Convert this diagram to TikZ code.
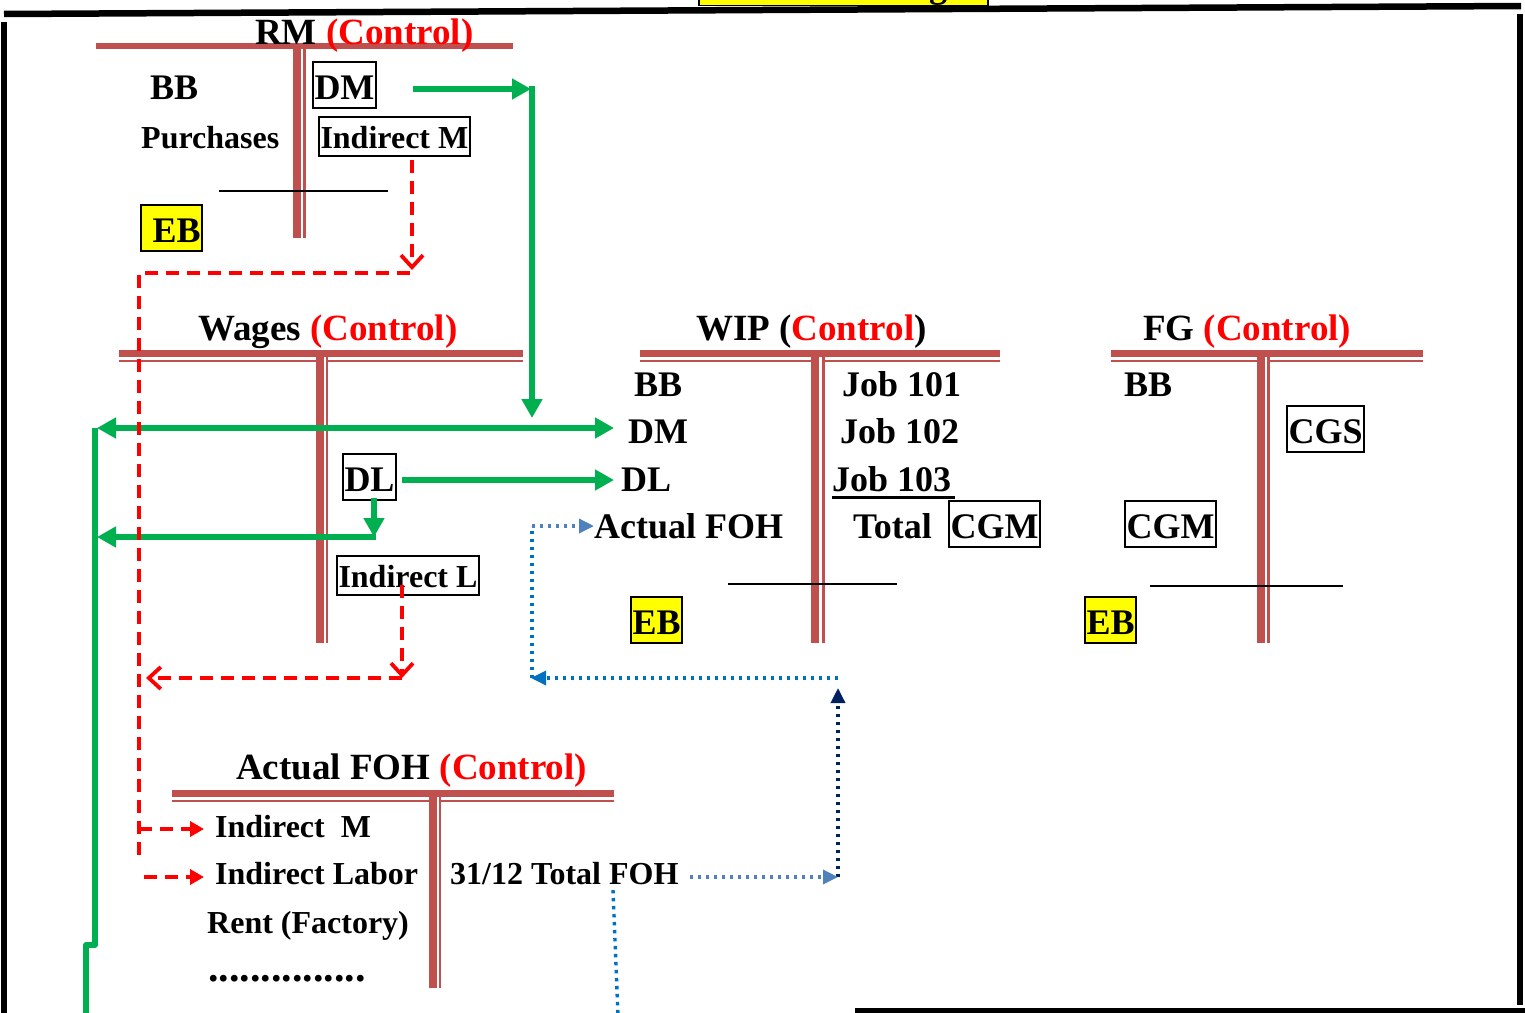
\documentclass[tikz,border=0pt]{standalone}
\usepackage{fontspec}
\setmainfont{Liberation Serif}
\usetikzlibrary{arrows.meta}
\definecolor{tred}{HTML}{C0504D}
\definecolor{gline}{HTML}{00B050}
\definecolor{rline}{HTML}{FF0000}
\definecolor{bline}{HTML}{0070C0}
\definecolor{lbline}{HTML}{4F81BD}
\definecolor{nline}{HTML}{002060}
\definecolor{ybox}{HTML}{FFFF00}
\begin{document}
\begin{tikzpicture}[x=1pt,y=-1pt,
  big/.style={font=\fontsize{36}{40}\selectfont\bfseries, inner sep=0pt, anchor=base west},
  small/.style={font=\fontsize{32}{36}\selectfont\bfseries, inner sep=0pt, anchor=base west},
  ttl/.style={font=\fontsize{37}{42}\selectfont\bfseries, inner sep=0pt, anchor=base west},
  boxed/.style={draw=black, line width=2pt, inner xsep=1.5pt, inner ysep=0pt, text height=37pt, text depth=9pt},
  sboxed/.style={draw=black, line width=2pt, inner xsep=1.5pt, inner ysep=0pt, text height=31pt, text depth=8pt},
  thickT/.style={draw=tred, line width=7pt},
  thinT/.style={draw=tred, line width=2.5pt},
  sepline/.style={draw=black, line width=1.5pt},
  frameline/.style={draw=black, line width=6.5pt},
  gconn/.style={draw=gline, line width=5.5pt},
  gtip/.style={-{Triangle[length=19pt,width=20pt]}},
  rdash/.style={draw=rline, line width=3.8pt, dash pattern=on 13pt off 8pt},
  rbarb/.style={-{Straight Barb[length=12pt,width=22pt]}},
  rtip/.style={-{Triangle[length=14pt,width=15pt]}},
  bdot/.style={draw=bline, line width=3.4pt, dash pattern=on 3.4pt off 4.6pt},
  lbdot/.style={draw=lbline, line width=3.4pt, dash pattern=on 3.4pt off 4.6pt},
  ndot/.style={draw=nline, line width=3.4pt, dash pattern=on 3.4pt off 4.6pt},
  btip/.style={-{Triangle[length=15pt,width=14pt]}}
]
\useasboundingbox (0,0) rectangle (1525,1012);

% frame
\draw[frameline] (4,14) -- (1521,6);
\draw[frameline] (4,22) -- (4,1016);
\draw[frameline] (1520,14) -- (1520,1005);
\draw[draw=black, line width=5pt] (855,1010) -- (1530,1010);
\node[draw=black, line width=1.5pt, fill=ybox, minimum width=289pt, minimum height=20pt, anchor=south west, inner sep=0pt] (tbox) at (698,6) {};
\node[font=\fontsize{36}{40}\selectfont\bfseries, anchor=base, inner sep=0pt] (tg) at (938,-3) {g};

% ---------- RM T-account
\draw[thickT, line width=6pt] (96,46) -- (513,46);
\draw[thickT, line width=8pt] (297,49) -- (297,238);
\draw[thinT] (304.5,49) -- (304.5,238);
\draw[sepline] (219,191) -- (388,191);
\node[ttl] (rmT) at (255,44) {RM \textcolor{rline}{(Control)}};
\node[big] (rmBB) at (150,99) {BB};
\node[small] (rmPur) at (141,148) {Purchases};
\node[big,boxed] (rmDM) at (312,99) {DM};
\node[small,sboxed] (rmIM) at (318,148) {Indirect M};
\node[big,boxed,fill=ybox] (rmEB) at (140,242) {\hspace{10pt}EB};

% ---------- Wages T-account
\draw[thickT] (119,353.5) -- (523,353.5);
\draw[thinT] (119,361) -- (320,361);
\draw[thinT] (327,361) -- (523,361);
\draw[thickT, line width=8pt] (320,357) -- (320,643);
\draw[thinT] (327,357) -- (327,643);
\node[ttl] (wT) at (198,340) {Wages \textcolor{rline}{(Control)}};
\node[big,boxed] (wDL) at (342,491) {DL};
\node[small,sboxed] (wIL) at (336,587) {Indirect L};

% ---------- WIP T-account
\draw[thickT] (640,353.5) -- (1000,353.5);
\draw[thinT] (640,361) -- (815,361);
\draw[thinT] (823.5,361) -- (1000,361);
\draw[thickT, line width=8pt] (815,357) -- (815,643);
\draw[thinT] (823.5,357) -- (823.5,643);
\draw[sepline] (728,584) -- (897,584);
\node[ttl] (wipT) at (696,340) {WIP (\textcolor{rline}{Control})};
\node[big] (wipBB) at (634,396) {BB};
\node[big] (wipDM) at (628,443) {DM};
\node[big] (wipDL) at (621,491) {DL};
\node[big] (wipFOH) at (594,538) {Actual FOH};
\node[big] (j1) at (842,396) {Job 101};
\node[big] (j2) at (840,443) {Job 102};
\node[big] (j3) at (832,491) {Job 103};
\draw[line width=3pt] ([yshift=-6pt]j3.base west) -- ([yshift=-6pt,xshift=4pt]j3.base east);
\node[big] (tot) at (853,538) {Total};
\node[big,boxed] (wipCGM) at (948,538) {CGM};
\node[big,boxed,fill=ybox] (wipEB) at (630,634) {EB};

% ---------- FG T-account
\draw[thickT] (1111,353.5) -- (1423,353.5);
\draw[thinT] (1111,361) -- (1261,361);
\draw[thinT] (1268.5,361) -- (1423,361);
\draw[thickT, line width=8pt] (1261,357) -- (1261,643);
\draw[thinT] (1268.5,357) -- (1268.5,643);
\draw[sepline] (1150,586) -- (1343,586);
\node[ttl] (fgT) at (1143,340) {FG \textcolor{rline}{(Control)}};
\node[big] (fgBB) at (1124,396) {BB};
\node[big,boxed] (fgCGS) at (1286,443) {CGS};
\node[big,boxed] (fgCGM) at (1124,538) {CGM};
\node[big,boxed,fill=ybox] (fgEB) at (1084,634) {EB};

% ---------- Actual FOH T-account
\draw[thickT] (172,793.5) -- (614,793.5);
\draw[thinT] (172,801) -- (433,801);
\draw[thinT] (440,801) -- (614,801);
\draw[thickT, line width=8pt] (433,797) -- (433,988);
\draw[thinT] (440,797) -- (440,988);
\node[ttl] (fohT) at (236,779) {Actual FOH \textcolor{rline}{(Control)}};
\node[small] (fIM) at (215,837) {Indirect\ \ M};
\node[small] (fIL) at (215,884) {Indirect Labor};
\node[small] (fRent) at (207,933) {Rent (Factory)};
\node[font=\fontsize{42}{46}\selectfont\bfseries, inner sep=0pt, anchor=base west] (fDots) at (208,981) {...............};
\node[small] (fTot) at (450,884) {31/12 Total FOH};

% ---------- coordinates for connectors
\coordinate (gDMa) at (413,89);
\coordinate (gDMb) at (531,89);
\coordinate (gDMc) at (532,86.25);
\coordinate (gDMd) at (532,418);
\coordinate (gL1) at (97,428);
\coordinate (gR1) at (614,428);
\coordinate (gV1) at (95,428);
\coordinate (gV2) at (95,945);
\coordinate (gV3) at (86,945);
\coordinate (gV4) at (86,1016);
\coordinate (gDLa) at (402,480);
\coordinate (gDLb) at (614,480);
\coordinate (gDLc) at (374,498);
\coordinate (gDLd) at (374,537);
\coordinate (gDLe) at (376,537);
\coordinate (gDLf) at (97,537);

\coordinate (rA) at (412,160);
\coordinate (rB) at (412,270);
\coordinate (rC) at (410,273);
\coordinate (rD) at (139,273);
\coordinate (rE) at (139,862);
\coordinate (rF) at (402,585);
\coordinate (rG) at (402,678);
\coordinate (rH) at (146,678);
\coordinate (rI) at (139,829);
\coordinate (rJ) at (204,829);
\coordinate (rK) at (144,877);
\coordinate (rL) at (204,877);

\coordinate (bA) at (838,678);
\coordinate (bB) at (531,678);
\coordinate (bC) at (532,678);
\coordinate (bD) at (532,526);
\coordinate (bE) at (594,526);
\coordinate (bF) at (838,877);
\coordinate (bG) at (838,688);
\coordinate (bH) at (690,877);
\coordinate (bI) at (613,890);
\coordinate (bJ) at (618,1016);

% ---------- green connectors
\draw[gconn, gtip] (gDMa) -- (gDMb);
\draw[gconn, gtip] (gDMc) -- (gDMd);
\draw[gconn, {Triangle[length=19pt,width=20pt]}-{Triangle[length=19pt,width=20pt]}] (gL1) -- (gR1);
\draw[gconn, line join=round] (gV1) -- (gV2) -- (gV3) -- (gV4);
\draw[gconn, gtip] (gDLa) -- (gDLb);
\draw[gconn, gtip] (gDLc) -- (gDLd);
\draw[gconn, gtip] (gDLe) -- (gDLf);

% ---------- red dashed connectors
\draw[rdash, rbarb] (rA) -- (rB);
\draw[rdash] (rC) -- (rD) -- (rE);
\draw[rdash, rbarb] (rF) -- (rG);
\draw[rdash, rbarb] (rG) -- (rH);
\draw[rdash, rtip] (rI) -- (rJ);
\draw[rdash, rtip] (rK) -- (rL);

% ---------- blue dotted connectors
\draw[bdot, btip] (bA) -- (bB);
\draw[bdot] (bC) -- (bD);
\draw[lbdot, btip] (bD) -- (bE);
\draw[ndot, btip] (bF) -- (bG);
\draw[lbdot, btip] (bH) -- (bF);
\draw[bdot] (bI) -- (bJ);

\end{tikzpicture}
\end{document}
